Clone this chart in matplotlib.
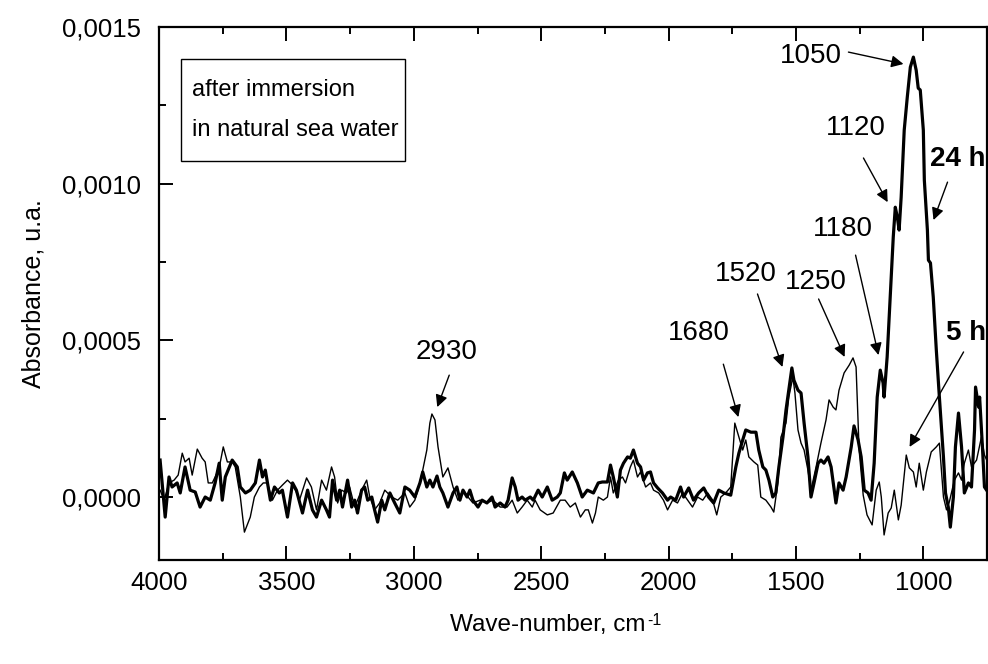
import numpy as np
import matplotlib
matplotlib.use("Agg")
import matplotlib.pyplot as plt
from matplotlib.ticker import FixedLocator, MultipleLocator, FuncFormatter
from matplotlib.patches import Rectangle

plt.rcParams['font.family'] = ['Liberation Sans', 'DejaVu Sans']

# FTIR spectra (absorbance given in units of 1e-4)
wn_24h = [3996, 3976, 3961, 3949, 3929, 3917, 3898, 3878, 3858, 3839, 3819, 3799, 3780, 3764, 3752, 3740,
          3713, 3693, 3681, 3661, 3642, 3622, 3606, 3594, 3583, 3563, 3547, 3528, 3516, 3496, 3476, 3461,
          3437, 3417, 3398, 3382, 3362, 3343, 3331, 3319, 3303, 3291, 3280, 3260, 3244, 3232, 3221, 3205,
          3193, 3181, 3165, 3154, 3142, 3126, 3114, 3094, 3075, 3055, 3035, 3016, 2996, 2976, 2965, 2949,
          2937, 2925, 2909, 2898, 2886,
          2866, 2846, 2831, 2819, 2807, 2791, 2780, 2768, 2748, 2732, 2713, 2693, 2681, 2661, 2642, 2630,
          2614, 2602, 2591, 2575, 2563, 2543, 2531, 2512, 2496, 2476, 2457, 2437, 2425, 2409, 2398, 2378,
          2358, 2339, 2319,
          2295, 2276, 2260, 2240, 2228, 2217, 2201, 2189, 2177, 2161, 2150, 2138, 2122, 2110, 2098, 2083,
          2071, 2059, 2043, 2024, 2004, 1992, 1972, 1953, 1941, 1921, 1902, 1882, 1862, 1843, 1823, 1803, 1783,
          1756, 1736, 1724, 1709, 1697, 1677, 1657, 1646, 1630, 1618, 1606, 1591, 1579, 1567, 1551, 1539,
          1528, 1516, 1508, 1492, 1480, 1468, 1453, 1441, 1429, 1413, 1402, 1390, 1374, 1362, 1343, 1331,
          1315, 1303, 1283, 1272, 1256, 1244, 1232,
          1217, 1205, 1193, 1181, 1169, 1158, 1154, 1142, 1130, 1118, 1110, 1102, 1095, 1087, 1075, 1063,
          1051, 1039, 1028, 1020, 1012, 1000, 996, 984, 980, 972, 961, 949, 937, 921, 913, 902, 894, 882,
          874, 862, 850, 839, 823, 811, 799, 795, 783, 779, 768, 760, 744]
abs_24h = [1.18, -0.64, 0.64, 0.32, 0.45, 0.13, 0.96, 0.22, 0.16, -0.32, 0, -0.10, 0.45, 1.08, -0.10, 0.64,
           1.18, 0.96, 0.32, 0.13, 0.22, 0.45, 1.18, 0.64, 0.86, -0.10, 0.32, 0.13, 0.22, -0.64, 0.45, 0.22,
           -0.51, 0.22, -0.41, -0.64, -0.10, -0.41, -0.64, 0.54, -0.10, 0.22, -0.32, 0.54, -0.32, -0.10, -0.51, 0.22,
           0.32, -0.10, 0, -0.41, -0.80, -0.10, -0.41, 0.13, -0.19, -0.51, 0.32, 0.22, 0, 0.45, 0.80, 0.32,
           0.54, 0.32, 0.67, 0.32, 0.13,
           -0.32, 0.13, 0.32, -0.10, 0.22, 0, 0.22, -0.10, -0.32, -0.10, -0.19, 0, -0.32, -0.19, -0.32, -0.10,
           0.61, 0.32, -0.10, 0, -0.10, 0, -0.10, 0.22, 0, 0.32, -0.10, 0, 0.13, 0.77, 0.54, 0.80,
           0.45, 0, 0.22,
           0.13, 0.45, 0.48, 0.48, 1.02, 0.64, 0, 0.86, 1.08, 1.28, 1.24, 1.50, 1.08, 0.96, 0.54, 0.77,
           0.80, 0.45, 0.29, 0.13, -0.10, 0, -0.10, 0.32, 0, 0.29, -0.10, 0.13, 0.29, 0, -0.19, 0.22, 0.13,
           0.06, 0.96, 1.40, 1.82, 2.14, 2.07, 2.07, 1.50, 0.96, 0.86, 0.54, 0, 0.13, 0.96, 1.91, 2.78,
           3.41, 4.12, 3.73, 3.41, 3.32, 2.36, 1.28, 0, 0.45, 1.08, 1.18, 1.08, 1.28, 0.96, -0.19, 0.45,
           0.22, 0.64, 1.60, 2.27, 1.82, 1.28, 0.22,
           0.13, -0.10, 1.08, 3.19, 4.05, 3.64, 3.19, 4.47, 6.38, 8.30, 9.25, 8.93, 8.52, 9.57, 11.71, 12.76,
           13.72, 14.04, 13.62, 13.05, 12.99, 11.71, 10.11, 8.52, 7.56, 7.47, 6.38, 4.69, 3.19, 1.28, 0.13, -0.32, -0.96, 0,
           1.60, 2.68, 1.60, 0.13, 0.45, 0.32, 2.14, 3.51, 2.87, 3.19, 1.60, 0.32, 0.13]

wn_5h = [3996, 3980, 3961, 3941, 3925, 3909, 3898, 3882, 3870, 3850, 3831, 3819, 3807, 3791, 3780, 3764,
         3748, 3732, 3713, 3701, 3681, 3665, 3654, 3642, 3626, 3606, 3591, 3575, 3555, 3535, 3516, 3496,
         3476, 3461,
         3449, 3421, 3402, 3382, 3362, 3343, 3323, 3311, 3299, 3283, 3264, 3252, 3232, 3205, 3185, 3173,
         3154, 3134, 3114, 3087, 3063, 3035, 3016, 2996, 2984, 2965, 2949, 2937, 2929, 2917, 2905,
         2886, 2866, 2846, 2827, 2807, 2787, 2768, 2740, 2713, 2689, 2661, 2634, 2614, 2594, 2575, 2555,
         2535, 2524, 2504, 2476, 2453, 2425, 2406, 2386, 2366, 2346, 2327,
         2315, 2299, 2287, 2276, 2256, 2240, 2228, 2217, 2197, 2181, 2169, 2150, 2138, 2122, 2110, 2090,
         2071, 2059, 2039, 2020, 2004, 1984, 1965, 1945, 1925, 1906, 1886, 1866, 1846, 1827, 1811, 1795, 1776,
         1756, 1740, 1724, 1709, 1697, 1685, 1665, 1650, 1638, 1618, 1598, 1587, 1571, 1559, 1539, 1528,
         1512, 1504, 1492, 1480, 1468, 1453, 1441, 1421, 1402, 1382, 1370, 1354, 1343, 1331, 1311, 1291,
         1276, 1264, 1252, 1236,
         1221, 1201, 1185, 1173, 1165, 1154, 1138, 1126, 1114, 1098, 1087, 1067, 1055, 1039, 1028, 1016,
         1000, 988, 969, 949, 937, 921, 909, 898, 878, 862, 850, 839, 823, 811, 791, 772, 760, 748]
abs_5h = [0.22, -0.10, 0.45, 0.54, 0.70, 1.40, 1.12, 1.24, 0.70, 1.53, 1.24, 1.12, 0.45, 0.45, 0.64, 0.93,
          1.60, 1.12, 1.12, 0.96, 0, -1.12, -0.89, -0.64, 0, 0.32, 0.45, 0.45, -0.10, 0.22, 0.38, 0.54,
          0.38, 0.16,
          -0.10, 0.61, 0.32, -0.41, 0.54, 0.22, 0.96, 0.64, -0.19, 0.22, 0.13, 0.32, -0.32, 0.22, 0.54, 0,
          -0.41, -0.19, 0.22, 0, -0.10, 0.13, -0.32, -0.10, 0.22, 0.86, 1.50, 2.36, 2.65, 2.46, 1.60,
          0.64, 0.93, 0.32, -0.10, 0.22, 0, -0.19, -0.10, -0.19, -0.10, -0.32, -0.32, -0.10, -0.51, -0.32, -0.10,
          -0.32, -0.10, -0.41, -0.57, -0.51, -0.10, -0.10, -0.32, -0.19, -0.64, -0.41,
          -0.41, -0.83, -0.51, 0, -0.10, 0, 0.64, 0.13, 0.54, 0.64, 0.45, 0.96, 1.18, 0.64, 0.80, 0.32,
          0.45, 0.22, 0.13, -0.10, -0.41, -0.10, -0.19, 0.13, -0.10, -0.32, 0, -0.10, 0.13, -0.10, -0.57, 0, 0.13,
          0.32, 2.36, 1.91, 1.50, 1.82, 1.28, 1.12, 1.02, 0, -0.10, -0.32, -0.48, 0.45, 1.91, 2.36, 3.19,
          3.83, 3.32, 2.14, 1.72, 1.50, 0.86, 0.22, 0.96, 1.72, 2.46, 3.10, 2.87, 2.78, 3.41, 3.96, 4.21,
          4.44, 4.15, 1.50, 0.06,
          -0.57, -0.89, 0.22, 0.48, 0, -1.21, -0.51, -0.35, 0.22, -0.73, -0.26, 1.34, 0.93, 0.80, 0.32, 1.08,
          0.22, 0.80, 1.44, 1.60, 1.72, 0, -0.41, -0.16, 0.54, 0.77, 0.54, 1.08, 1.50, 0.96, 1.18, 1.91, 1.34, 1.12]

# band labels: text position, arrow tail and arrow tip in (wavenumber, 1e-4 absorbance)
band_labels = ["2930", "1680", "1520", "1250", "1180", "1120", "1050"]
band_text_pos = [(2873, 4.63), (1883, 5.23), (1698, 7.12), (1423, 6.86), (1317, 8.55), (1266, 11.77), (1443, 14.07)]
band_tail = [(2861, 3.89), (1785, 4.24), (1651, 6.48), (1411, 6.32), (1266, 7.72), (1235, 10.82), (1294, 14.20)]
band_tip = [(2908, 2.87), (1726, 2.55), (1553, 4.15), (1309, 4.47), (1176, 4.53), (1140, 9.41), (1078, 13.82)]

series_labels = ["24 h", "5 h"]
series_text_pos = [(865, 10.78), (834, 5.23)]
series_tail = [(905, 10.05), (842, 4.63)]
series_tip = [(960, 8.84), (1054, 1.60)]

scale = 1e-4

fig = plt.figure(figsize=(9.88, 6.64), dpi=100)
ax = fig.add_axes([0.161, 0.1566, 0.838, 0.8027])

ax.plot(wn_5h, np.array(abs_5h) * scale, color='black', lw=1.0)
ax.plot(wn_24h, np.array(abs_24h) * scale, color='black', lw=2.3)

ax.set_xlim(4000, 750)
ax.set_ylim(-0.000201, 0.0015)

ax.xaxis.set_major_locator(FixedLocator([4000, 3500, 3000, 2500, 2000, 1500, 1000]))
ax.xaxis.set_minor_locator(MultipleLocator(250))
ax.yaxis.set_major_locator(FixedLocator([0.0, 0.0005, 0.0010, 0.0015]))
ax.yaxis.set_minor_locator(MultipleLocator(0.00025))
ax.yaxis.set_major_formatter(FuncFormatter(lambda v, p: f"{abs(v):.4f}".replace('.', ',')))

ax.tick_params(axis='both', which='both', direction='in', labelsize=18.5, width=1.4)
ax.tick_params(axis='x', which='both', top=True, pad=8)
ax.tick_params(axis='y', which='both', pad=13)
ax.tick_params(which='major', length=10)
ax.tick_params(which='minor', length=5)
for s in ax.spines.values():
    s.set_linewidth(1.6)

ax.set_ylabel('Absorbance, u.a.', fontsize=18)
ax.yaxis.set_label_coords(-0.137, 0.5)

# x-axis title with a hyphen superscript
xl = fig.text(0.5547, 0.0587, 'Wave-number, cm', fontsize=17.5, ha='center', va='center')
fig.canvas.draw()
bb = xl.get_window_extent(renderer=fig.canvas.get_renderer())
fig.text((bb.x1 + 1) / fig.bbox.width, (bb.y1 - 6) / fig.bbox.height, '-1', fontsize=11.5,
         ha='left', va='center')

# framed note
ax.add_patch(Rectangle((0.0266, 0.7486), 0.2705, 0.1914, transform=ax.transAxes,
                       fill=False, edgecolor='black', lw=1.0))
ax.text(0.040, 0.882, 'after immersion', transform=ax.transAxes, fontsize=17, va='center', ha='left')
ax.text(0.040, 0.807, 'in natural sea water', transform=ax.transAxes, fontsize=17, va='center', ha='left')

arrow_kw = dict(arrowstyle='-|>', color='black', lw=1.0, mutation_scale=18,
                shrinkA=0, shrinkB=0)

for lab, tp, tl, tip in zip(band_labels, band_text_pos, band_tail, band_tip):
    ax.text(tp[0], tp[1] * scale, lab, fontsize=20, ha='center', va='center')
    ax.annotate('', xy=(tip[0], tip[1] * scale), xytext=(tl[0], tl[1] * scale), arrowprops=arrow_kw)

for lab, tp, tl, tip in zip(series_labels, series_text_pos, series_tail, series_tip):
    ax.text(tp[0], tp[1] * scale, lab, fontsize=20, fontweight='bold', ha='center', va='center')
    ax.annotate('', xy=(tip[0], tip[1] * scale), xytext=(tl[0], tl[1] * scale), arrowprops=arrow_kw)

fig.savefig('out.png', dpi=100)
